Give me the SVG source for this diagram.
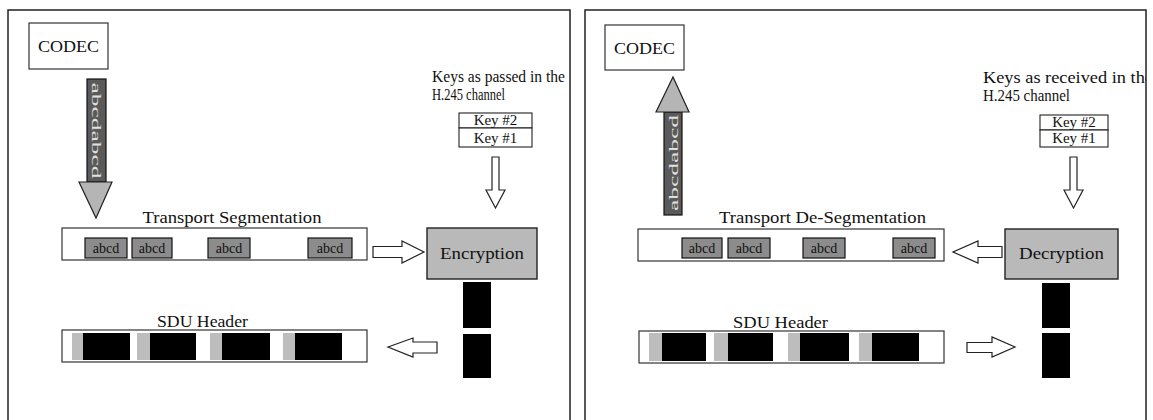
<svg xmlns="http://www.w3.org/2000/svg" width="1153" height="420" viewBox="0 0 1153 420">
<style>
text{font-family:"Liberation Serif","Times New Roman",serif;fill:#111}
.frame{fill:none;stroke:#222;stroke-width:1.5}
.box{fill:#fff;stroke:#333;stroke-width:1.2}
.lbl{font-size:17px;text-anchor:middle}
.keyt{font-size:16px}
.kb{fill:#fff;stroke:#222;stroke-width:1.1}
.kt{font-size:15px;text-anchor:middle}
.seg{fill:#8c8c8c;stroke:#111;stroke-width:1.2}
.segt{font-size:14px;text-anchor:middle;fill:#111}
.crypt{fill:#b9b9b9;stroke:#222;stroke-width:1.4}
.cryptt{font-size:17px;text-anchor:middle}
.blk{fill:#000}
.stip{fill:#bdbdbd}
.hollow{fill:#fff;stroke:#222;stroke-width:1.2;stroke-linejoin:miter}
.shaft{fill:#5a5a5a;stroke:#111;stroke-width:1.2}
.head{fill:#b5b5b5;stroke:#222;stroke-width:1.2}
.vt{font-size:13px;text-anchor:middle;fill:#e0e0e0}
.codec{font-size:17px;text-anchor:middle}
</style>
<defs>
<clipPath id="rclip"><rect x="585" y="0" width="561" height="420"/></clipPath>
</defs>

<g id="frame-left"><path class="frame" d="M8,420 V10 H570 V420"/></g>
<g id="frame-right"><path class="frame" d="M585,420 V10 H1146 V420"/></g>

<!-- LEFT PANEL -->
<g id="codec-left">
<rect class="box" x="29" y="23" width="79" height="46"/>
<text class="codec" x="68.5" y="52" textLength="61" lengthAdjust="spacingAndGlyphs">CODEC</text>
</g>
<g id="keys-label-left">
<text class="keyt" x="432" y="82" textLength="133" lengthAdjust="spacingAndGlyphs">Keys as passed in the</text>
<text class="keyt" x="432" y="100" textLength="73" lengthAdjust="spacingAndGlyphs">H.245 channel</text>
</g>
<g id="keys-left">
<rect class="kb" x="459" y="113" width="73" height="15"/>
<rect class="kb" x="459" y="128" width="73" height="19"/>
<text class="kt" x="495.5" y="125">Key #2</text>
<text class="kt" x="495.5" y="143">Key #1</text>
</g>
<g id="transport-left">
<text class="lbl" x="232" y="223" textLength="179" lengthAdjust="spacingAndGlyphs">Transport Segmentation</text>
<rect class="box" x="62" y="228" width="305" height="32"/>
<rect class="seg" x="85" y="238" width="42" height="20"/><text class="segt" x="106" y="253">abcd</text>
<rect class="seg" x="132" y="238" width="40" height="20"/><text class="segt" x="152" y="253">abcd</text>
<rect class="seg" x="208" y="238" width="42" height="20"/><text class="segt" x="229" y="253">abcd</text>
<rect class="seg" x="308" y="238" width="44" height="20"/><text class="segt" x="330" y="253">abcd</text>
</g>
<g id="encryption">
<rect class="crypt" x="427" y="228" width="110" height="51"/>
<text class="cryptt" x="482" y="259" textLength="84" lengthAdjust="spacingAndGlyphs">Encryption</text>
</g>
<g id="cipher-blocks-left">
<rect class="blk" x="463" y="282" width="28" height="46"/>
<rect class="blk" x="463" y="334" width="28" height="44"/>
</g>
<g id="sdu-left">
<text class="lbl" x="202.5" y="327" textLength="91" lengthAdjust="spacingAndGlyphs">SDU Header</text>
<rect class="box" x="62" y="330" width="305" height="32"/>
<rect class="stip" x="72" y="333" width="11" height="27"/><rect class="blk" x="83" y="333" width="47" height="27"/>
<rect class="stip" x="137" y="333" width="13" height="27"/><rect class="blk" x="150" y="333" width="46" height="27"/>
<rect class="stip" x="210" y="333" width="12" height="27"/><rect class="blk" x="222" y="333" width="48" height="27"/>
<rect class="stip" x="283" y="333" width="12" height="27"/><rect class="blk" x="295" y="333" width="47" height="27"/>
</g>

<!-- RIGHT PANEL -->
<g id="codec-right">
<rect class="box" x="605" y="25" width="79" height="45"/>
<text class="codec" x="644.5" y="54" textLength="61" lengthAdjust="spacingAndGlyphs">CODEC</text>
</g>
<g id="keys-label-right" clip-path="url(#rclip)">
<text class="keyt" x="983" y="83" textLength="170" lengthAdjust="spacingAndGlyphs">Keys as received in the</text>
<text class="keyt" x="983" y="101" textLength="87" lengthAdjust="spacingAndGlyphs">H.245 channel</text>
</g>
<g id="keys-right">
<rect class="kb" x="1040" y="115" width="68" height="15"/>
<rect class="kb" x="1040" y="130" width="68" height="17"/>
<text class="kt" x="1074" y="127">Key #2</text>
<text class="kt" x="1074" y="143">Key #1</text>
</g>
<g id="transport-right">
<text class="lbl" x="822.5" y="223" textLength="207" lengthAdjust="spacingAndGlyphs">Transport De-Segmentation</text>
<rect class="box" x="638" y="229" width="306" height="32"/>
<rect class="seg" x="682" y="238" width="40" height="20"/><text class="segt" x="702" y="253">abcd</text>
<rect class="seg" x="728" y="238" width="42" height="20"/><text class="segt" x="749" y="253">abcd</text>
<rect class="seg" x="803" y="238" width="42" height="20"/><text class="segt" x="824" y="253">abcd</text>
<rect class="seg" x="893" y="238" width="42" height="20"/><text class="segt" x="914" y="253">abcd</text>
</g>
<g id="decryption">
<rect class="crypt" x="1005" y="229" width="113" height="50"/>
<text class="cryptt" x="1061.5" y="259" textLength="85" lengthAdjust="spacingAndGlyphs">Decryption</text>
</g>
<g id="cipher-blocks-right">
<rect class="blk" x="1042" y="283" width="28" height="45"/>
<rect class="blk" x="1042" y="333" width="28" height="45"/>
</g>
<g id="sdu-right">
<text class="lbl" x="780.5" y="328" textLength="95" lengthAdjust="spacingAndGlyphs">SDU Header</text>
<rect class="box" x="639" y="331" width="305" height="32"/>
<rect class="stip" x="649" y="333" width="13" height="28"/><rect class="blk" x="662" y="333" width="44" height="28"/>
<rect class="stip" x="714" y="333" width="14" height="28"/><rect class="blk" x="728" y="333" width="45" height="28"/>
<rect class="stip" x="788" y="333" width="12" height="28"/><rect class="blk" x="800" y="333" width="49" height="28"/>
<rect class="stip" x="859" y="333" width="13" height="28"/><rect class="blk" x="872" y="333" width="47" height="28"/>
</g>

<!-- CONNECTORS -->
<g id="connectors">
<rect class="shaft" x="87" y="79" width="19" height="103"/>
<polygon class="head" points="79,182 112,182 96,218"/>
<text class="vt" transform="translate(96.5,130.5) rotate(90)" dominant-baseline="central" textLength="96" lengthAdjust="spacingAndGlyphs">abcdabcd</text>
<polygon class="hollow" points="492,157 499,157 499,190 505,190 495.5,208 486,190 492,190"/>
<polygon class="hollow" points="373,246.5 402,246.5 402,241 424,252 402,263 402,257.5 373,257.5"/>
<polygon class="hollow" points="388,347 413,338 413,342 437,342 437,353 413,353 413,357"/>

<rect class="shaft" x="664" y="112" width="18" height="103"/>
<polygon class="head" points="656,112 689,112 673,77"/>
<text class="vt" transform="translate(673,163) rotate(-90)" dominant-baseline="central" textLength="96" lengthAdjust="spacingAndGlyphs">abcdabcd</text>
<polygon class="hollow" points="1070,157 1077,157 1077,190 1083,190 1073.5,208 1064,190 1070,190"/>
<polygon class="hollow" points="1002,246.5 978,246.5 978,241 953,252 978,263 978,257.5 1002,257.5"/>
<polygon class="hollow" points="967,342.5 992,342.5 992,337 1015,347 992,357 992,352.5 967,352.5"/>
</g>
</svg>
